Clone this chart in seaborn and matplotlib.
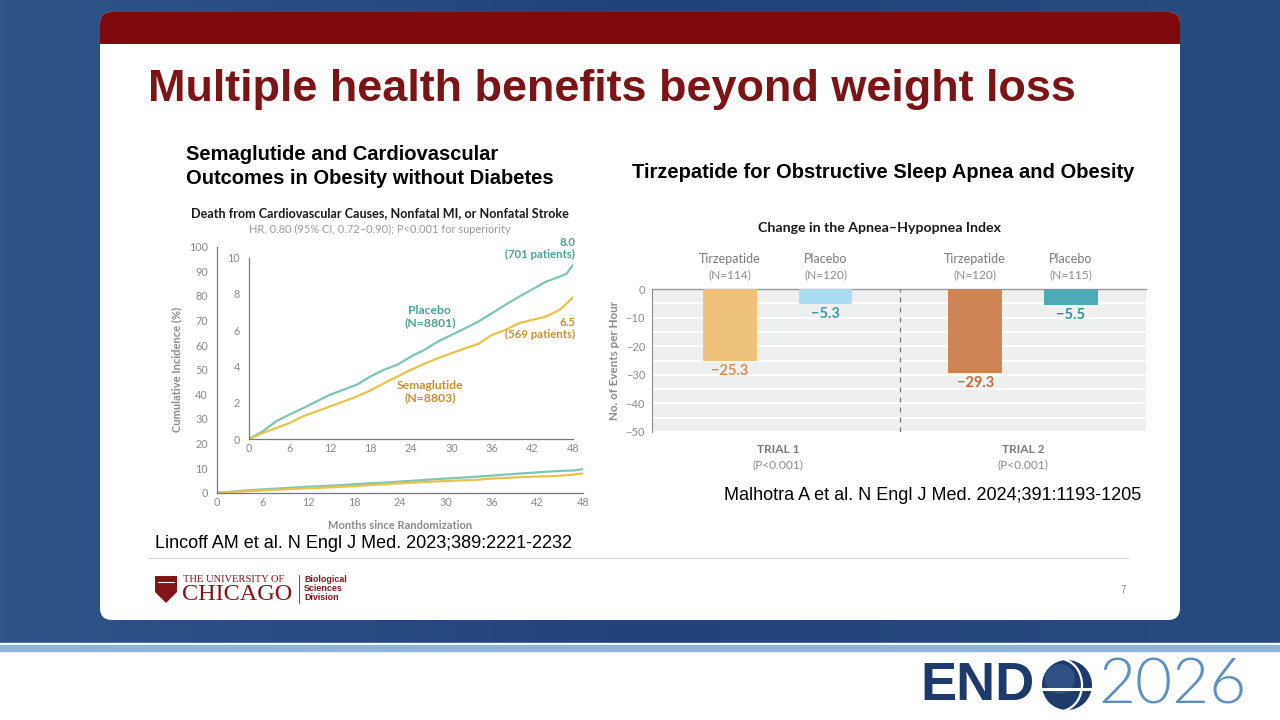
import numpy as np
import pandas as pd
import matplotlib
matplotlib.use("Agg")
import matplotlib.pyplot as plt
from matplotlib.patches import FancyBboxPatch, Rectangle, Circle, Polygon, Arc
from matplotlib.colors import LinearSegmentedColormap
import seaborn as sns

sns.set_style("white")
plt.rcParams['font.family'] = ['Liberation Sans', 'DejaVu Sans']
plt.rcParams['axes.unicode_minus'] = True

# SELECT: cumulative incidence (%) of MACE
months = [0, 2, 4, 6, 8, 10, 12, 14, 16, 18, 20, 22, 24, 26, 28, 30, 32, 34, 36, 38, 40, 42, 44, 46, 47, 48]
placebo_inc = [0, 0.42, 0.97, 1.35, 1.7, 2.07, 2.44, 2.72, 3.0, 3.45, 3.82, 4.1, 4.55, 4.92, 5.38, 5.74,
               6.1, 6.48, 6.94, 7.4, 7.85, 8.26, 8.68, 8.95, 9.1, 9.6]
sema_inc = [0, 0.33, 0.6, 0.88, 1.25, 1.52, 1.8, 2.07, 2.35, 2.68, 3.08, 3.45, 3.82, 4.15, 4.46, 4.73,
            5.0, 5.25, 5.74, 6.02, 6.39, 6.57, 6.75, 7.12, 7.45, 7.82]

# SURMOUNT-OSA: change in apnea-hypopnea index
trials = ['TRIAL 1', 'TRIAL 1', 'TRIAL 2', 'TRIAL 2']
arms = ['Tirzepatide', 'Placebo', 'Tirzepatide', 'Placebo']
ahi_change = [-25.3, -5.3, -29.3, -5.5]
n_patients = [114, 120, 120, 115]
trial_p = ['P<0.001', 'P<0.001']

W, H = 1280, 720
fig = plt.figure(figsize=(W / 100, H / 100), dpi=100)


def px_axes(x0, y0, x1, y1):
    return fig.add_axes([x0 / W, 1 - y1 / H, (x1 - x0) / W, (y1 - y0) / H])


# ---------- slide background ----------
bg = fig.add_axes([0, 0, 1, 1])
bg_cmap = LinearSegmentedColormap.from_list('bg', ['#2e5488', '#22437a', '#274b7f'])
bg.imshow(np.linspace(0, 1, 256)[None, :], extent=[0, W, 643, 0], cmap=bg_cmap, aspect='auto', zorder=0)
bg.add_patch(Rectangle((0, 643), W, 77, color='white', zorder=1))
bg.add_patch(Rectangle((0, 645), W, 6, color='#8fb3da', zorder=2))
bg.set_xlim(0, W)
bg.set_ylim(H, 0)
bg.axis('off')

# card
bg.add_patch(FancyBboxPatch((100, 12), 1080, 608, boxstyle='round,pad=0,rounding_size=12',
                            fc='white', ec='none', zorder=3))
bg.add_patch(FancyBboxPatch((100, 12), 1080, 44, boxstyle='round,pad=0,rounding_size=12',
                            fc='#7e0a0d', ec='none', zorder=4))
bg.add_patch(Rectangle((100, 44), 1080, 20, fc='white', ec='none', zorder=5))

bg.text(148, 89, 'Multiple health benefits beyond weight loss', fontsize=32.4, fontweight='bold',
        color='#7b1416', va='center', ha='left', zorder=6)
bg.text(186, 154, 'Semaglutide and Cardiovascular', fontsize=14.5, fontweight='bold',
        color='black', va='center', zorder=6)
bg.text(186, 178, 'Outcomes in Obesity without Diabetes', fontsize=14.5, fontweight='bold',
        color='black', va='center', zorder=6)
bg.text(632, 173, 'Tirzepatide for Obstructive Sleep Apnea and Obesity', fontsize=14.5,
        fontweight='bold', color='black', va='center', zorder=6)

chart_font = ['Lato', 'DejaVu Sans']
bg.text(380, 213, 'Death from Cardiovascular Causes, Nonfatal MI, or Nonfatal Stroke', fontsize=9.1,
        fontweight='bold', family=chart_font, color='#1a1a1a', ha='center', va='center', zorder=6)
bg.text(380, 229, 'HR, 0.80 (95% CI, 0.72\u20130.90); P<0.001 for superiority', fontsize=7.9,
        family=chart_font, color='#9a9a9a', ha='center', va='center', zorder=6)
bg.text(880, 228, 'Change in the Apnea\u2013Hypopnea Index', fontsize=10.2, fontweight='bold',
        family=chart_font, color='#1a1a1a', ha='center', va='center', zorder=6)

bg.text(155, 543, 'Lincoff AM et al. N Engl J Med. 2023;389:2221-2232', fontsize=13,
        color='black', va='center', zorder=6)
bg.text(724, 496, 'Malhotra A et al. N Engl J Med. 2024;391:1193-1205', fontsize=13,
        color='black', va='center', zorder=6)

bg.plot([148, 1128], [558, 558], color='#d8d8d8', lw=0.8, zorder=6)
bg.text(1123, 590, '7', fontsize=7, color='#8a8a8a', ha='center', va='center', zorder=6)

# UChicago mark
maroon = '#80141a'
bg.add_patch(Polygon([(155, 576), (177, 576), (177, 592), (166, 603), (155, 592)],
                     closed=True, fc=maroon, ec='none', zorder=6))
bg.plot([158, 174], [582, 582], color='white', lw=0.8, zorder=7)
bg.text(183, 579, 'THE UNIVERSITY OF', fontsize=7.6, family=['Liberation Serif', 'DejaVu Serif'],
        color=maroon, va='center', zorder=6)
bg.text(182, 595, 'CHICAGO', fontsize=17.5, family=['Liberation Serif', 'DejaVu Serif'],
        color=maroon, va='center', zorder=6)
bg.plot([299, 299], [575, 603], color=maroon, lw=0.6, zorder=6)
for i, word in enumerate(['Biological', 'Sciences', 'Division']):
    bg.text(304, 579 + i * 9.5, word, fontsize=6.4, fontweight='bold', color=maroon,
            va='center', zorder=6)

# ENDO2026 logo
navy = '#1e3a6b'
bg.text(920, 686, 'END', fontsize=39, fontweight='bold', color=navy, va='center', ha='left', zorder=6)
bg.add_patch(Circle((1067, 685), 25, fc=navy, ec='none', zorder=6))
bg.add_patch(Circle((1060, 679), 15, fc='#3b5f95', ec='none', alpha=0.6, zorder=6))
bg.plot([1042, 1092], [689, 689], color='white', lw=2.2, zorder=7)
bg.add_patch(Arc((1060, 685), 44, 52, theta1=-80, theta2=80, color='white', lw=1.6, zorder=7))
bg.text(1098, 686, '2026', fontsize=46, fontweight=300, family=['Lato', 'DejaVu Sans'],
        color='#5e8fc1', va='center', ha='left', zorder=6)

# ---------- left chart: cumulative incidence ----------
teal = '#7cc5b7'
gold = '#e8c24a'
gray = '#8a8a8a'
cv = pd.DataFrame({
    'month': months + months,
    'incidence': placebo_inc + sema_inc,
    'arm': ['Placebo'] * len(months) + ['Semaglutide'] * len(months),
})
pal = {'Placebo': teal, 'Semaglutide': gold}

ax_m = px_axes(217, 246.7, 583, 492.7)
sns.lineplot(data=cv, x='month', y='incidence', hue='arm', palette=pal, lw=1.6,
             legend=False, ax=ax_m)
ax_m.set_xlim(0, 48)
ax_m.set_ylim(0, 100)
ax_m.set_xticks(range(0, 49, 6))
ax_m.set_yticks(range(0, 101, 10))
ax_m.set_xlabel('Months since Randomization', fontsize=8, fontweight='bold', color=gray,
                family=chart_font, labelpad=9)
ax_m.set_ylabel('Cumulative Incidence (%)', fontsize=8, fontweight='bold', color=gray,
                family=chart_font, labelpad=5)

ax_i = px_axes(249, 257.7, 573, 439)
sns.lineplot(data=cv, x='month', y='incidence', hue='arm', palette=pal, lw=1.6,
             legend=False, ax=ax_i)
ax_i.set_xlim(0, 48)
ax_i.set_ylim(0, 10)
ax_i.set_xticks(range(0, 49, 6))
ax_i.set_yticks(range(0, 11, 2))
ax_i.set_xlabel('')
ax_i.set_ylabel('')

for a in (ax_m, ax_i):
    a.patch.set_alpha(0)
    for s in ('top', 'right'):
        a.spines[s].set_visible(False)
    for s in ('left', 'bottom'):
        a.spines[s].set_color('#777777')
        a.spines[s].set_linewidth(0.9)
    a.tick_params(axis='y', direction='out', length=6, width=0.8, color='#777777',
                  labelsize=7.8, labelcolor=gray, pad=0.5)
    a.tick_params(axis='x', direction='in', length=5, width=0.8, color='#777777',
                  labelsize=7.8, labelcolor=gray, pad=3)
    for lab in a.get_xticklabels() + a.get_yticklabels():
        lab.set_family(chart_font)

ax_i.text(26.8, 6.75, 'Placebo\n(N=8801)', fontsize=8.7, fontweight='bold', color='#4e9f93',
          family=chart_font, ha='center', va='center', linespacing=1.15)
ax_i.text(26.8, 2.6, 'Semaglutide\n(N=8803)', fontsize=8.7, fontweight='bold', color='#c08f34',
          family=chart_font, ha='center', va='center', linespacing=1.15)
ax_i.text(48.3, 10.5, '8.0\n(701 patients)', fontsize=8.2, fontweight='bold', color='#4e9f93',
          family=chart_font, ha='right', va='center', linespacing=1.15, clip_on=False)
ax_i.text(48.3, 6.1, '6.5\n(569 patients)', fontsize=8.2, fontweight='bold', color='#c08f34',
          family=chart_font, ha='right', va='center', linespacing=1.15)

# ---------- right chart: AHI change ----------
ahi = pd.DataFrame({'trial': trials, 'arm': arms, 'change': ahi_change, 'n': n_patients})
bar_colors = {('Tirzepatide', 'TRIAL 1'): '#efc27c', ('Placebo', 'TRIAL 1'): '#a9dcf1',
              ('Tirzepatide', 'TRIAL 2'): '#cd8553', ('Placebo', 'TRIAL 2'): '#4eabb6'}
label_colors = {('Tirzepatide', 'TRIAL 1'): '#d98d4c', ('Placebo', 'TRIAL 1'): '#3c9ea9',
                ('Tirzepatide', 'TRIAL 2'): '#bf6a40', ('Placebo', 'TRIAL 2'): '#2e8f9b'}

ax_r = px_axes(652, 289, 1146, 432)
ax_r.set_facecolor('#eef0f0')
sns.barplot(data=ahi, x='trial', y='change', hue='arm', hue_order=['Tirzepatide', 'Placebo'],
            order=['TRIAL 1', 'TRIAL 2'], dodge=True, width=0.78, gap=0.44, errorbar=None,
            legend=False, palette=['#efc27c', '#a9dcf1'], ax=ax_r, zorder=3)
ax_r.set_xlim(-0.514, 1.502)
ax_r.set_ylim(-50, 0)
ax_r.set_yticks(range(-50, 1, 10))
ax_r.set_yticks(range(-45, 0, 10), minor=True)
ax_r.yaxis.grid(True, which='both', color='white', lw=1.3, zorder=1)
ax_r.set_axisbelow(True)
ax_r.set_xticks([])
ax_r.set_xlabel('')
ax_r.set_ylabel('No. of Events per Hour', fontsize=8.4, fontweight='bold', color=gray,
                family=chart_font, labelpad=4)
for s in ('right', 'bottom'):
    ax_r.spines[s].set_visible(False)
ax_r.spines['left'].set_color('#888888')
ax_r.spines['left'].set_linewidth(0.8)
ax_r.spines['top'].set_color('#999999')
ax_r.spines['top'].set_linewidth(1.0)
ax_r.tick_params(axis='y', which='major', direction='out', length=4, width=0.8, color='#888888',
                 labelsize=8, labelcolor=gray, pad=1)
ax_r.tick_params(axis='y', which='minor', length=0)
for lab in ax_r.get_yticklabels():
    lab.set_family(chart_font)
ax_r.axvline(0.5, color='#777777', lw=0.9, ls=(0, (4, 4)), zorder=4)

for arm, cont in zip(['Tirzepatide', 'Placebo'], ax_r.containers):
    for trial, bar in zip(['TRIAL 1', 'TRIAL 2'], cont):
        bar.set_facecolor(bar_colors[(arm, trial)])
        bar.set_edgecolor('none')
        row = ahi[(ahi['arm'] == arm) & (ahi['trial'] == trial)].iloc[0]
        xc = bar.get_x() + bar.get_width() / 2
        ax_r.annotate(f"\u2212{abs(row['change'])}", xy=(xc, row['change']), xytext=(0, -2),
                      textcoords='offset points', ha='center', va='top', fontsize=10.5,
                      fontweight='bold', color=label_colors[(arm, trial)], family=chart_font)
        ax_r.annotate(arm, xy=(xc, 1.21), xycoords=('data', 'axes fraction'), ha='center',
                      va='center', fontsize=9, color='#7a7a7a', family=chart_font,
                      annotation_clip=False)
        ax_r.annotate(f"(N={row['n']})", xy=(xc, 1.10), xycoords=('data', 'axes fraction'),
                      ha='center', va='center', fontsize=8.6, color='#8a8a8a', family=chart_font,
                      annotation_clip=False)

for i, (trial, p) in enumerate(zip(['TRIAL 1', 'TRIAL 2'], trial_p)):
    ax_r.annotate(trial, xy=(i, -0.12), xycoords=('data', 'axes fraction'), ha='center',
                  va='center', fontsize=8.6, fontweight='bold', color='#7a7a7a', family=chart_font,
                  annotation_clip=False)
    ax_r.annotate(f'({p})', xy=(i, -0.23), xycoords=('data', 'axes fraction'), ha='center',
                  va='center', fontsize=8.6, color='#8a8a8a', family=chart_font,
                  annotation_clip=False)

fig.savefig('out.png', dpi=100)
